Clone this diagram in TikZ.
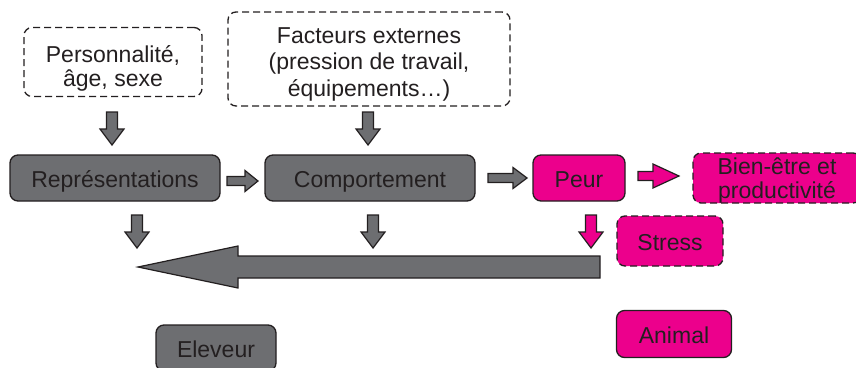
\documentclass[tikz,border=0pt]{standalone}
\usepackage{fontspec}
\setmainfont{Liberation Sans}
\definecolor{boxgray}{HTML}{6D6E71}
\definecolor{boxpink}{HTML}{EC008C}
\definecolor{ink}{HTML}{231F20}
\begin{document}
\begin{tikzpicture}[x=1pt,y=-1pt,
  txt/.style={text=ink,align=center,inner sep=0pt,font=\fontsize{23}{24}\selectfont},
  basebox/.style={txt,rounded corners=8pt,draw=ink,line width=1.3pt,text height=19pt,text depth=0pt},
  gbox/.style={basebox,fill=boxgray},
  pbox/.style={basebox,fill=boxpink},
  dashedge/.style={dash pattern=on 7pt off 4pt},
  wbox/.style={basebox,fill=white,dashedge},
  arrowline/.style={draw=ink,line width=1.2pt,line join=miter},
  pics/darrow/.style={code={\draw[arrowline,fill=#1] (-5.5,0) -- (5.5,0) -- (5.5,17) -- (12,17) -- (0,33) -- (-12,17) -- (-5.5,17) -- cycle;}}
]
\useasboundingbox (0,0) rectangle (856,367);
\clip (0,0) rectangle (856,367);
% boxes
\node[wbox,minimum width=178pt,minimum height=69pt] (pers) at (113,62) {};
\node[txt] (pers-t) at ([yshift=-6pt]pers.center) {Personnalité,\\âge, sexe};
\node[wbox,minimum width=282pt,minimum height=94pt] (fact) at (369,59) {};
\node[txt,font=\fontsize{23}{26.5}\selectfont] (fact-t) at ([yshift=-5pt]fact.center) {Facteurs externes\\(pression de travail,\\équipements…)};
\node[gbox,minimum width=210pt,minimum height=46pt] (repr) at (115,178) {Représentations};
\node[gbox,minimum width=210pt,minimum height=46pt] (comp) at (370,178) {Comportement};
\node[pbox,minimum width=92pt,minimum height=46pt] (peur) at (579,178) {Peur};
\node[pbox,dashedge,minimum width=168pt,minimum height=50pt] (bien) at (777,178) {};
\node[txt] (bien-t) at ([yshift=-3pt]bien.center) {Bien-être et\\productivité};
\node[pbox,dashedge,minimum width=106pt,minimum height=50pt] (stress) at (670,241) {Stress};
\node[gbox,minimum width=120pt,minimum height=46pt] (elev) at (216,348) {Eleveur};
\node[pbox,minimum width=115pt,minimum height=47pt] (anim) at (674,334) {Animal};
% down block arrows
\pic at (112,112) {darrow=boxgray};
\pic at (368,112) {darrow=boxgray};
\pic at (137,215) {darrow=boxgray};
\pic at (373,215) {darrow=boxgray};
\pic at (591,215) {darrow=boxpink};
% right block arrows
\draw[arrowline,fill=boxgray,shift={(227,181)}] (0,-4.5) -- (18,-4.5) -- (18,-10.5) -- (31,0) -- (18,10.5) -- (18,4.5) -- (0,4.5) -- cycle;
\draw[arrowline,fill=boxgray,shift={(488,178)}] (0,-4.5) -- (25,-4.5) -- (25,-10.5) -- (39,0) -- (25,10.5) -- (25,4.5) -- (0,4.5) -- cycle;
\draw[arrowline,fill=boxpink,shift={(638,176)}] (0,-4.5) -- (15,-4.5) -- (15,-12) -- (41,0) -- (15,12) -- (15,4.5) -- (0,4.5) -- cycle;
% big left arrow
\draw[arrowline,fill=boxgray] (600,256) -- (238,256) -- (238,246) -- (138,267) -- (238,288) -- (238,278) -- (600,278) -- cycle;
\end{tikzpicture}
\end{document}
